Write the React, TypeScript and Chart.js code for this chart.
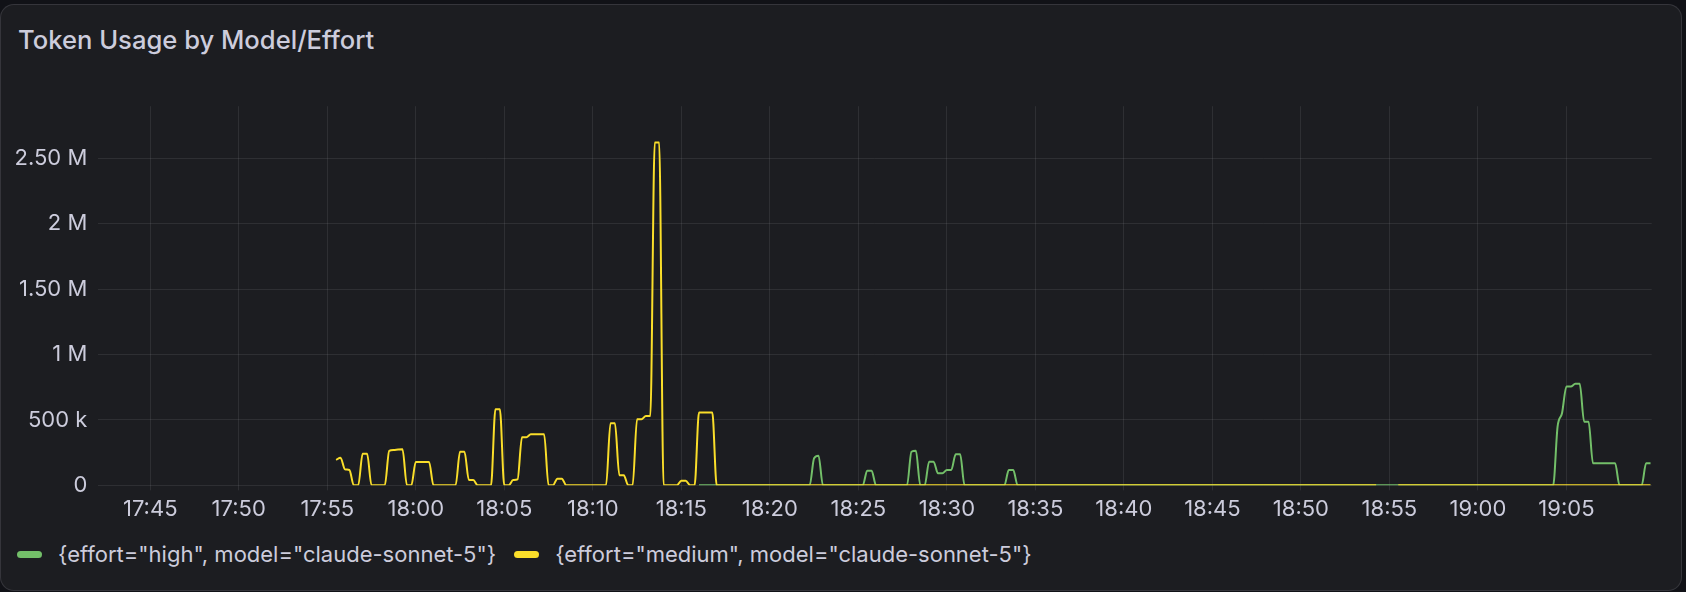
import { useEffect, useRef } from "react";
import { Chart, registerables } from "chart.js";

Chart.register(...registerables);

// time axis (clock labels) and y axis ticks
const xTickLabels = [
  "17:45", "17:50", "17:55", "18:00", "18:05", "18:10", "18:15", "18:20", "18:25",
  "18:30", "18:35", "18:40", "18:45", "18:50", "18:55", "19:00", "19:05",
];
const xStart = "17:42:04";
const xEnd = "19:09:49";
const yMax = 2900000;
const yTickValues = [0, 500000, 1000000, 1500000, 2000000, 2500000];
const yTickLabels = ["0", "500 k", "1 M", "1.50 M", "2 M", "2.50 M"];

const highLabel = '{effort="high", model="claude-sonnet-5"}';
const mediumLabel = '{effort="medium", model="claude-sonnet-5"}';

// effort="high" samples (tokens)
const highTimes = [
  "18:16:00", "18:22:15", "18:22:30", "18:22:45", "18:23:00", "18:25:15", "18:25:30",
  "18:25:45", "18:26:00", "18:27:45", "18:28:00", "18:28:15", "18:28:30", "18:28:45",
  "18:29:00", "18:29:15", "18:29:30", "18:29:45", "18:30:00", "18:30:15", "18:30:30",
  "18:30:45", "18:31:00", "18:33:15", "18:33:30", "18:33:45", "18:34:00", "19:04:15",
  "19:04:30", "19:04:45", "19:05:00", "19:05:15", "19:05:30", "19:05:45", "19:06:00",
  "19:06:15", "19:06:30", "19:07:45", "19:08:00", "19:09:15", "19:09:30", "19:09:45",
];
const highValues = [
  0, 0, 207000, 227000, 0, 0, 112000,
  112000, 0, 0, 257000, 265000, 0, 0,
  181000, 181000, 92000, 92000, 117000, 117000, 237000,
  237000, 0, 0, 117000, 117000, 0, 0,
  449000, 551000, 755000, 755000, 776000, 776000, 487000,
  487000, 168000, 168000, 0, 0, 168000, 168000,
];

// effort="medium" samples (tokens), null = no data
const mediumTimes = [
  "17:55:30", "17:55:45", "17:56:00", "17:56:15", "17:56:30", "17:56:45", "17:57:00",
  "17:57:15", "17:57:30", "17:58:15", "17:58:30", "17:58:45", "17:59:00", "17:59:15",
  "17:59:30", "17:59:45", "18:00:00", "18:00:45", "18:01:00", "18:02:15", "18:02:30",
  "18:02:45", "18:03:00", "18:03:15", "18:03:30", "18:04:15", "18:04:30", "18:04:45",
  "18:05:00", "18:05:15", "18:05:30", "18:05:45", "18:06:00", "18:06:15", "18:06:30",
  "18:07:15", "18:07:30", "18:07:45", "18:08:00", "18:08:15", "18:08:30", "18:10:45",
  "18:11:00", "18:11:15", "18:11:30", "18:11:45", "18:12:00", "18:12:15", "18:12:30",
  "18:12:45", "18:13:00", "18:13:15", "18:13:30", "18:13:45", "18:14:00", "18:14:45",
  "18:15:00", "18:15:15", "18:15:30", "18:15:45", "18:16:00", "18:16:45", "18:17:00",
  "18:54:15", "18:54:30", "18:55:30", "19:09:45",
];
const mediumValues = [
  194000, 211000, 122000, 117000, 0, 0, 242000,
  242000, 0, 0, 263000, 270000, 274000, 276000,
  0, 0, 178000, 178000, 0, 0, 257000,
  257000, 40000, 40000, 0, 0, 582000, 582000,
  0, 0, 40000, 45000, 367000, 367000, 390000,
  390000, 0, 0, 51000, 51000, 0, 0,
  475000, 475000, 77000, 77000, 0, 0, 505000,
  505000, 531000, 531000, 2623000, 2623000, 0, 0,
  35000, 35000, 0, 0, 556000, 556000, 0,
  0, null, 0, 0,
];

const GREEN = "#73bf69";
const YELLOW = "#fade2a";
const TEXT = "#ccccdc";
const GRID = "rgba(204,204,220,0.1)";
const FONT = "Inter, 'Noto Sans', sans-serif";

function toMinutes(t: string) {
  const [h, m, s = "0"] = t.split(":");
  return Number(h) * 60 + Number(m) + Number(s) / 60;
}

function toPoints(times: string[], values: (number | null)[]) {
  return times.map((t, i) => ({ x: toMinutes(t), y: values[i] }));
}

const xTickValues = xTickLabels.map(toMinutes);

const legendItems = [
  { label: highLabel, color: GREEN },
  { label: mediumLabel, color: YELLOW },
];

function TokenChart() {
  const canvasRef = useRef<HTMLCanvasElement>(null);
  const chartRef = useRef<Chart | null>(null);

  useEffect(() => {
    if (!canvasRef.current) return;

    chartRef.current?.destroy();
    chartRef.current = new Chart(canvasRef.current, {
      type: "line",
      data: {
        datasets: [
          {
            label: mediumLabel,
            data: toPoints(mediumTimes, mediumValues),
            borderColor: YELLOW,
            order: 0,
          },
          {
            label: highLabel,
            data: toPoints(highTimes, highValues),
            borderColor: GREEN,
            order: 1,
          },
        ],
      },
      options: {
        responsive: true,
        maintainAspectRatio: false,
        animation: false,
        // y labels reserve ~24px above the plot, so top padding stays 0
        layout: { padding: { top: 0, right: 34.3, bottom: 4.7, left: 0 } },
        elements: {
          point: { radius: 0, hoverRadius: 0 },
          line: { borderWidth: 2, cubicInterpolationMode: "monotone", fill: false },
        },
        plugins: {
          legend: { display: false },
          tooltip: { enabled: false },
        },
        scales: {
          x: {
            type: "linear",
            min: toMinutes(xStart),
            max: toMinutes(xEnd),
            afterBuildTicks: (axis: any) => {
              axis.ticks = xTickValues.map((v) => ({ value: v }));
            },
            afterFit: (axis: any) => {
              axis.height = 40;
            },
            ticks: {
              autoSkip: false,
              maxRotation: 0,
              padding: 6,
              color: TEXT,
              font: { family: FONT, size: 22 },
              callback: (v: any) => xTickLabels[xTickValues.indexOf(v)] ?? "",
            },
            grid: { color: GRID, lineWidth: 1, drawTicks: true, tickLength: 5 },
            border: { display: false },
          },
          y: {
            min: 0,
            max: yMax,
            afterBuildTicks: (axis: any) => {
              axis.ticks = yTickValues.map((v) => ({ value: v }));
            },
            afterFit: (axis: any) => {
              axis.width = 98.3;
            },
            ticks: {
              padding: 11,
              color: TEXT,
              font: { family: FONT, size: 22 },
              callback: (v: any) => yTickLabels[yTickValues.indexOf(v)] ?? "",
            },
            grid: { color: GRID, lineWidth: 1, drawTicks: false },
            border: { display: false },
          },
        },
      },
    });

    return () => {
      chartRef.current?.destroy();
      chartRef.current = null;
    };
  }, []);

  return (
    <div style={{ position: "absolute", left: 0, top: 82, width: 1686, height: 448 }}>
      <canvas ref={canvasRef} role="img" aria-label="Token usage by model and effort over time" />
    </div>
  );
}

export default function App() {
  return (
    <div
      style={{
        position: "relative",
        width: 1686,
        height: 592,
        overflow: "hidden",
        background: "#111217",
        fontFamily: FONT,
      }}
    >
      <style>{`body{margin:0;background:#111217;}`}</style>
      <div
        style={{
          position: "absolute",
          left: 0,
          top: 4,
          width: 1682,
          height: 587,
          boxSizing: "border-box",
          background: "#1c1d21",
          border: "1px solid rgba(204,204,220,0.14)",
          borderRadius: 14,
        }}
      />
      <div
        style={{
          position: "absolute",
          left: 18,
          top: 24,
          fontSize: 25.6,
          fontWeight: 500,
          color: TEXT,
          whiteSpace: "nowrap",
        }}
      >
        Token Usage by Model/Effort
      </div>
      <TokenChart />
      <div
        style={{
          position: "absolute",
          left: 17,
          top: 541,
          display: "flex",
          alignItems: "center",
          fontSize: 22,
          lineHeight: "26px",
          color: TEXT,
          whiteSpace: "nowrap",
        }}
      >
        {legendItems.map((item) => (
          <div key={item.label} style={{ display: "flex", alignItems: "center", marginRight: 18 }}>
            <span
              style={{
                display: "inline-block",
                width: 25,
                height: 7,
                borderRadius: 4,
                background: item.color,
                marginRight: 16,
              }}
            />
            <span>{item.label}</span>
          </div>
        ))}
      </div>
    </div>
  );
}
